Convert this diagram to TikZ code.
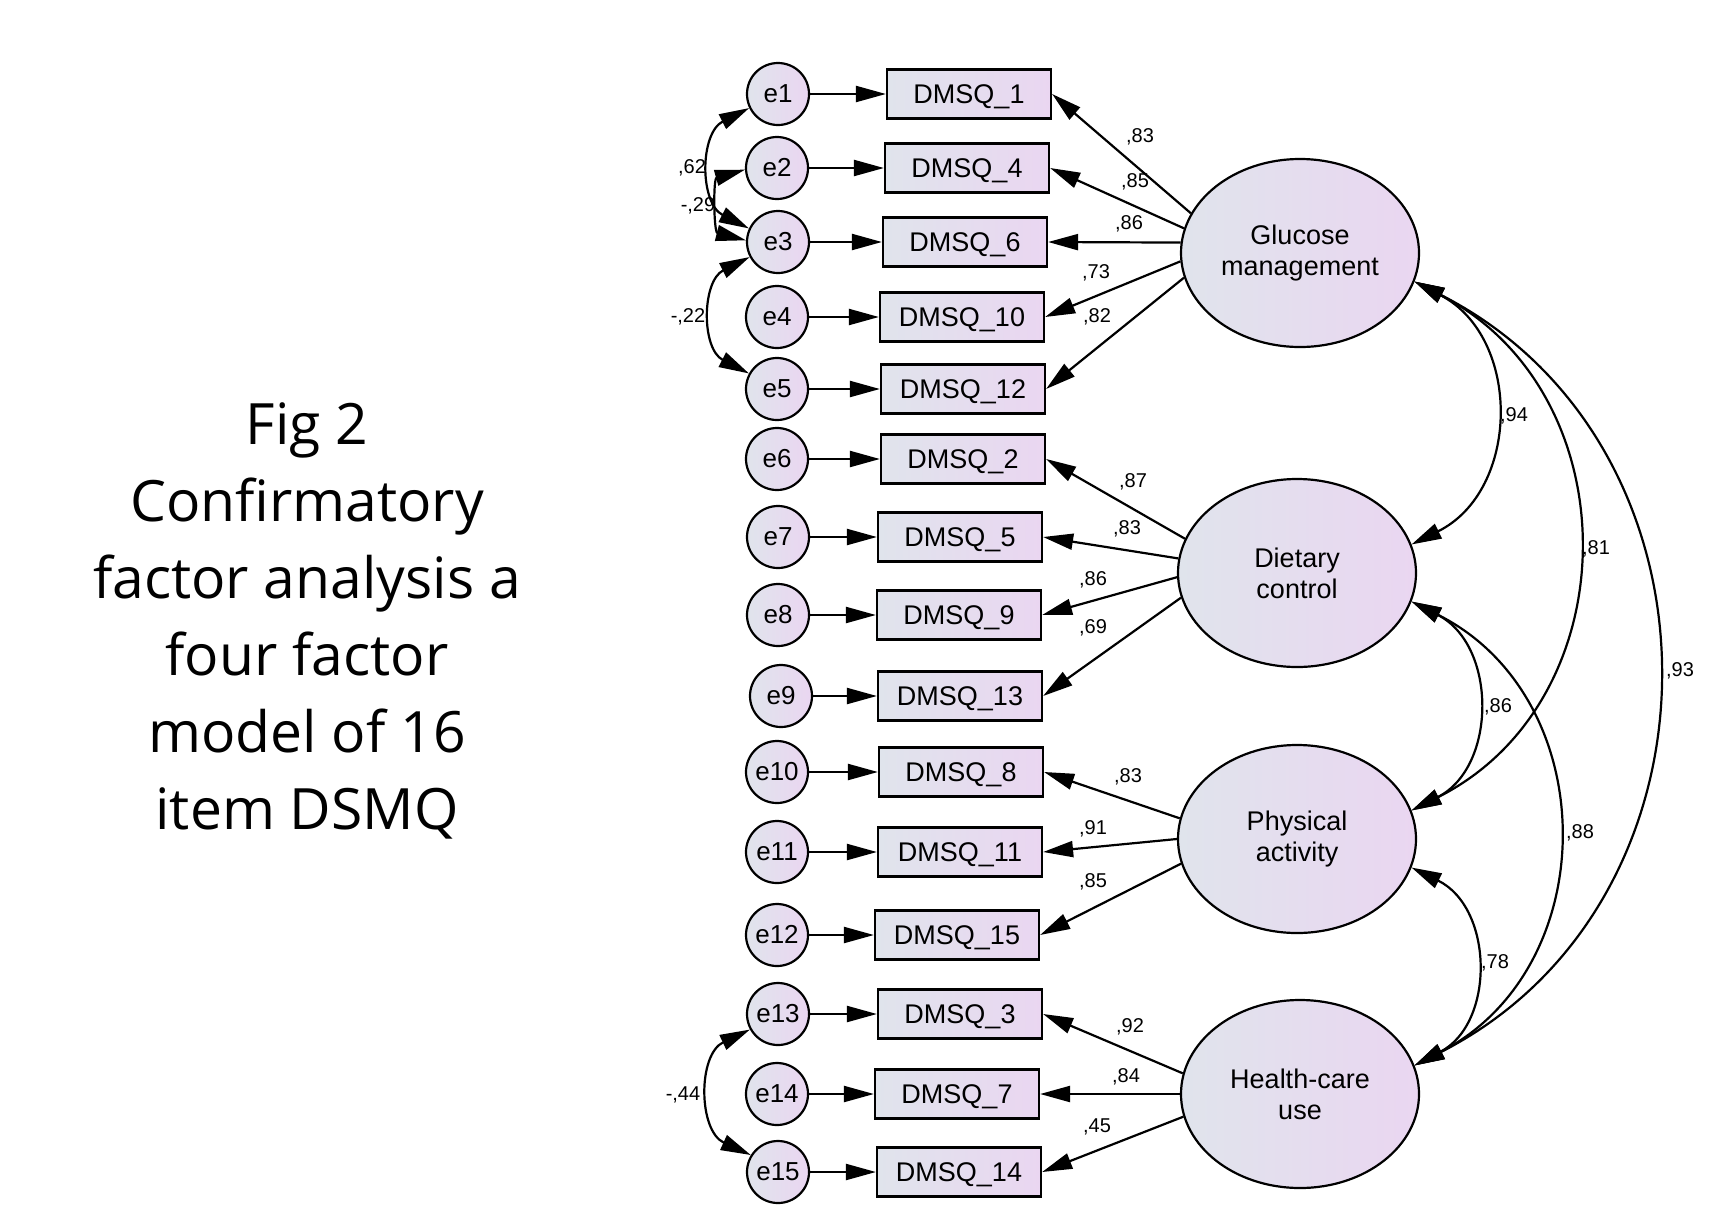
\documentclass[tikz,border=0pt]{standalone}
\usepackage{fontspec}
\setmainfont{Liberation Sans}
\newfontfamily\capfont{Open Sans}
\usetikzlibrary{shapes.geometric,arrows.meta}
\definecolor{gl}{RGB}{224,228,236}
\definecolor{gr}{RGB}{234,214,241}
\begin{document}
\begin{tikzpicture}[x=1pt,y=1pt,
  grad/.style={left color=gl, right color=gr, draw=black, line width=2.2pt},
  err/.style={grad, circle, minimum size=62pt, inner sep=0pt, font=\fontsize{26}{28}\selectfont},
  obs/.style={grad, rectangle, minimum width=164pt, minimum height=49pt, inner sep=0pt,
              text height=19pt, text depth=0pt, font=\fontsize{27}{30}\selectfont},
  lat/.style={grad, ellipse, minimum width=238pt, minimum height=188pt, inner sep=0pt, align=center, font=\fontsize{27}{31}\selectfont},
  pth/.style={line width=2.2pt, -{Triangle[length=30pt,width=16pt]}},
  cov/.style={line width=2.2pt, {Triangle[length=30pt,width=16pt]}-{Triangle[length=30pt,width=16pt]}},
  coef/.style={font=\fontsize{20}{22}\selectfont, inner sep=0pt},
]
\useasboundingbox (0,0) rectangle (1730,-1216);

% caption
\node[font=\capfont\fontsize{57}{77}\selectfont, align=center] (cap) at (307,-621)
  {Fig 2\\Confirmatory\\factor analysis a\\four factor\\model of 16\\item DSMQ};

% latent factors
\node[lat] (G) at (1300,-253) {Glucose\\management};
\node[lat] (D) at (1297,-573) {Dietary\\control};
\node[lat] (P) at (1297,-839) {Physical\\activity};
\node[lat] (H) at (1300,-1094) {Health-care\\use};

% error terms and observed variables
\foreach \i/\y/\ex/\bx/\lab in {
  1/94/778/969/DMSQ\_1,
  2/168/777/967/DMSQ\_4,
  3/242/778/965/DMSQ\_6,
  4/317/777/962/DMSQ\_10,
  5/389/777/963/DMSQ\_12,
  6/459/777/963/DMSQ\_2,
  7/537/778/960/DMSQ\_5,
  8/615/778/959/DMSQ\_9,
  9/696/781/960/DMSQ\_13,
  10/772/777/961/DMSQ\_8,
  11/852/777/960/DMSQ\_11,
  12/935/777/957/DMSQ\_15,
  13/1014/778/960/DMSQ\_3,
  14/1094/777/957/DMSQ\_7,
  15/1172/778/959/DMSQ\_14}{
  \node[err] (e\i) at (\ex,-\y) {e\i};
  \node[obs] (b\i) at (\bx,-\y) {\lab};
  \draw[pth] (e\i.east) -- (b\i.west);
}

% loadings
\foreach \f/\b/\a in {G/1/160, G/2/168, G/3/175, G/4/184, G/5/192,
                      D/6/163, D/7/173, D/8/182, D/9/192,
                      P/10/170, P/11/180, P/12/192,
                      H/13/170, H/14/180, H/15/191}{
  \draw[pth] (\f.\a) -- (b\b.east);
}

% loading labels
\foreach \x/\y/\t [count=\n] in {1140/137/{,83}, 1135/182/{,85}, 1129/224/{,86}, 1096/273/{,73}, 1097/317/{,82},
  1133/482/{,87}, 1127/529/{,83}, 1093/580/{,86}, 1093/628/{,69},
  1128/777/{,83}, 1093/829/{,91}, 1093/882/{,85},
  1130/1027/{,92}, 1126/1077/{,84}, 1097/1127/{,45}}{
  \node[coef] (l\n) at (\x,-\y) {\t};
}

% factor covariances
\draw[cov] (G.-14) to[bend left=63, looseness=1.18] (D.14);
\draw[cov] (G.-14) to[bend left=63, looseness=1.18] (P.14);
\draw[cov] (G.-14) to[bend left=63, looseness=1.18] (H.14);
\draw[cov] (D.-14) to[bend left=63, looseness=1.18] (P.14);
\draw[cov] (D.-14) to[bend left=63, looseness=1.18] (H.14);
\draw[cov] (P.-14) to[bend left=63, looseness=1.18] (H.14);

\node[coef] (c1) at (1514,-416) {,94};
\node[coef] (c2) at (1596,-549) {,81};
\node[coef] (c3) at (1498,-707) {,86};
\node[coef] (c4) at (1580,-833) {,88};
\node[coef] (c5) at (1495,-963) {,78};
\node[coef] (c6) at (1680,-671) {,93};

% error covariances
\draw[cov] (e1.206) to[bend right=63, looseness=1.18] (e3.155);
\draw[cov] (e2.183) to[bend right=75, looseness=1.2] (e3.177);
\draw[cov] (e3.208) to[bend right=63, looseness=1.18] (e5.151);
\draw[cov] (e13.209) to[bend right=65, looseness=1.18] (e15.148);

\node[coef] (k1) at (692,-168) {,62};
\node[coef] (k2) at (698,-206) {-,29};
\node[coef] (k3) at (688,-317) {-,22};
\node[coef] (k4) at (683,-1095) {-,44};
\end{tikzpicture}
\end{document}
